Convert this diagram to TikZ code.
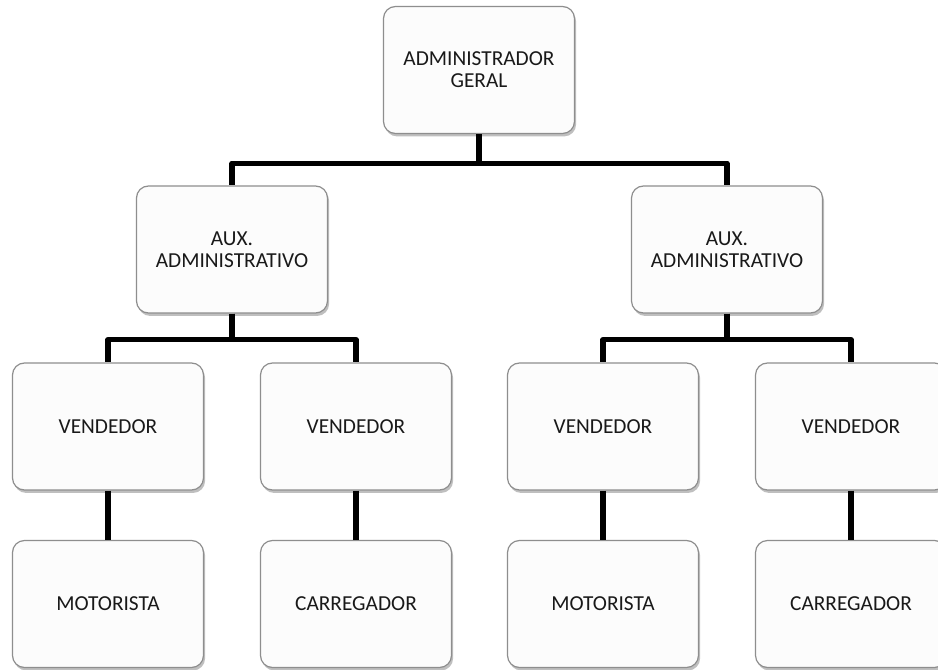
\documentclass[tikz,border=0pt]{standalone}
\usepackage{fontspec}
\setmainfont{Carlito}
\usetikzlibrary{shadows}
\definecolor{boxfill}{HTML}{FCFCFC}
\definecolor{boxline}{HTML}{8E8E8E}
\tikzset{
  orgbox/.style={draw=boxline, line width=0.9pt, fill=boxfill, rounded corners=9pt,
    minimum width=143.25pt, minimum height=95.25pt, inner sep=2pt, align=center,
    font=\fontsize{16}{16.5}\selectfont, text=black!90,
    drop shadow={shadow xshift=1.2pt, shadow yshift=-2.2pt, opacity=0.25, fill=black}},
  conn/.style={line width=3.8pt, black, line join=round}
}
\begin{document}
\begin{tikzpicture}[x=0.75pt, y=-0.75pt]
\useasboundingbox (0,0) rectangle (938,670);
\fill[white] (0,0) rectangle (938,670);
% nodes
\node[orgbox] (top) at (479,70) {ADMINISTRADOR\\GERAL};
\node[orgbox] (auxA) at (232,249.5) {AUX.\\ADMINISTRATIVO};
\node[orgbox] (auxB) at (727,249.5) {AUX.\\ADMINISTRATIVO};
\node[orgbox] (vendA) at (108,426.5) {VENDEDOR};
\node[orgbox] (vendB) at (356,426.5) {VENDEDOR};
\node[orgbox] (vendC) at (603,426.5) {VENDEDOR};
\node[orgbox] (vendD) at (851,426.5) {VENDEDOR};
\node[orgbox] (motA) at (108,604) {MOTORISTA};
\node[orgbox] (carB) at (356,604) {CARREGADOR};
\node[orgbox] (motC) at (603,604) {MOTORISTA};
\node[orgbox] (carD) at (851,604) {CARREGADOR};
% connectors
\draw[conn] (top.south) -- ++(0,29) -| (auxA.north);
\draw[conn] (top.south) -- ++(0,29) -| (auxB.north);
\draw[conn] (auxA.south) -- ++(0,26) -| (vendA.north);
\draw[conn] (auxA.south) -- ++(0,26) -| (vendB.north);
\draw[conn] (auxB.south) -- ++(0,26) -| (vendC.north);
\draw[conn] (auxB.south) -- ++(0,26) -| (vendD.north);
\draw[conn] (vendA.south) -- (motA.north);
\draw[conn] (vendB.south) -- (carB.north);
\draw[conn] (vendC.south) -- (motC.north);
\draw[conn] (vendD.south) -- (carD.north);
\end{tikzpicture}
\end{document}
